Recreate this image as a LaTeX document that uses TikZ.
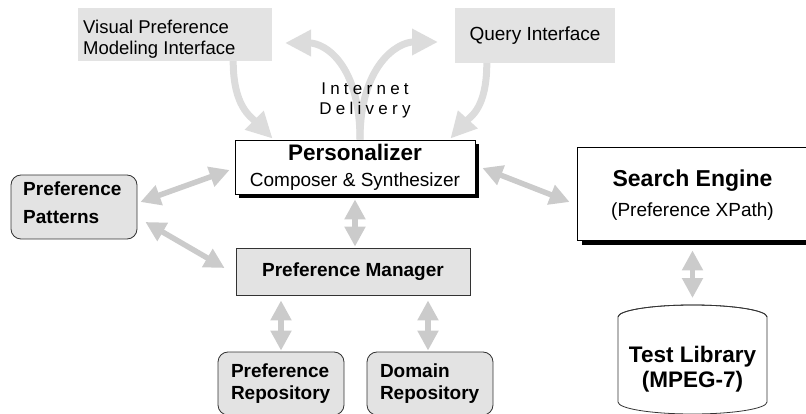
\documentclass[tikz,border=0pt]{standalone}
\usepackage{fontspec}
\setmainfont{Liberation Sans}
\newfontfamily\spacedfont[LetterSpace=25]{Liberation Sans}
\usetikzlibrary{arrows.meta,shadows,calc}
\definecolor{boxgray}{HTML}{E3E3E3}
\definecolor{arrgray}{HTML}{CBCBCB}
\definecolor{curvegray}{HTML}{DCDCDC}
\definecolor{edgegray}{HTML}{333333}
\begin{document}
\begin{tikzpicture}[x=1pt,y=-1pt,
  plainbox/.style={rectangle, fill=boxgray, inner sep=0pt},
  framebox/.style={rectangle, draw=edgegray, line width=0.8pt, fill=boxgray, inner sep=0pt},
  roundbox/.style={framebox, rounded corners=10pt},
  shadowbox/.style={rectangle, draw=black, line width=0.8pt, fill=white, inner sep=0pt},
  garrow/.style={draw=arrgray, line width=5.5pt,
    {Triangle[length=20pt,width=20pt]}-{Triangle[length=20pt,width=20pt]}},
  carrow/.style={draw=curvegray, line width=7pt, -{Triangle[length=26pt,width=25pt]}},
  txt/.style={inner sep=0pt, align=left}
]
\useasboundingbox (0,0) rectangle (806,414);

% top interfaces
\node[plainbox, minimum width=194pt, minimum height=53pt] (vis) at (175,34.5) {};
\node[txt, anchor=north west, font=\fontsize{18.5}{21}\selectfont] (vistext) at (83,19.5)
  {Visual Preference\\Modeling Interface};
\node[plainbox, minimum width=160pt, minimum height=55pt,
  font=\fontsize{19}{22}\selectfont] (query) at (535,35.5) {Query Interface};

% personalizer
\node[shadowbox, minimum width=240pt, minimum height=54pt, align=center,
  general shadow={fill=black, shadow xshift=4pt, shadow yshift=-4pt},
  font=\fontsize{19}{26}\selectfont] (pers) at (355,167)
  {{\fontsize{22.5}{26}\selectfont\bfseries Personalizer}\\Composer \& Synthesizer};

% search engine
\node[shadowbox, minimum width=238pt, minimum height=93pt,
  general shadow={fill=black, shadow xshift=5pt, shadow yshift=-5pt}] (search) at (696,193.5) {};
\node[align=center, inner sep=0pt, font=\fontsize{19}{30}\selectfont] (searchtext) at (692.5,195)
  {{\fontsize{23}{30}\selectfont\bfseries Search Engine}\\(Preference XPath)};

% preference patterns
\node[roundbox, minimum width=126pt, minimum height=64pt] (patt) at (74,207) {};
\node[txt, anchor=north west, font=\fontsize{19}{28}\selectfont\bfseries] (patttext) at (23,182)
  {Preference\\Patterns};

% preference manager
\node[framebox, minimum width=234pt, minimum height=47pt,
  font=\fontsize{19}{22}\selectfont\bfseries] (mgr) at (353,271.5) {Preference Manager};

% repositories
\node[roundbox, minimum width=126pt, minimum height=63pt, text width=100pt, align=left,
  font=\fontsize{19}{22}\selectfont\bfseries] (prepo) at (281,383.5)
  {Preference\\Repository};
\node[roundbox, minimum width=126pt, minimum height=63pt, text width=100pt, align=left,
  font=\fontsize{19}{22}\selectfont\bfseries] (drepo) at (430,383.5)
  {Domain\\Repository};

% test library cylinder
\draw[line width=0.8pt, draw=edgegray, fill=white]
  (618,317) -- (618,402) arc[start angle=180, end angle=360, x radius=74.5pt, y radius=12pt]
  -- (767,317) arc[start angle=0, end angle=180, x radius=74.5pt, y radius=12pt] -- cycle;
\draw[line width=0.8pt, draw=edgegray]
  (618,317) arc[start angle=180, end angle=360, x radius=74.5pt, y radius=-12pt];
\coordinate (cyltop) at (692.5,305);
\node[align=center, font=\fontsize{22.5}{25}\selectfont\bfseries] (lib) at (692.5,369)
  {Test Library\\(MPEG-7)};

% straight double arrows
\draw[garrow, shorten <=5pt, shorten >=1pt] (pers.south) -- (pers.south |- mgr.north);
\draw[garrow, shorten <=5pt, shorten >=1pt] (mgr.south -| prepo.north) -- (prepo.north);
\draw[garrow, shorten <=5pt, shorten >=1pt] ([xshift=-2pt]mgr.south -| drepo.north) -- ([xshift=-2pt]drepo.north);
\draw[garrow, shorten <=10pt, shorten >=7pt] (search.south -| cyltop) -- (cyltop);
\draw[garrow] ([shift={(3,-5)}]patt.east) -- ([shift={(-5,3)}]pers.west);
\draw[garrow] ([shift={(8,15)}]patt.east) -- ([shift={(-11,-3.5)}]mgr.west);
\draw[garrow] ([shift={(7,1)}]pers.east) -- ([shift={(-7,8.5)}]search.west);

% curved internet delivery arrows
\coordinate (lhead) at (285,43);
\coordinate (rhead) at (438,42);
\draw[carrow] ([xshift=-39pt]vis.south east) .. controls +(0,45) and +(-22,-22) .. ([xshift=38pt,yshift=1pt]pers.north west);
\draw[carrow] ([xshift=32pt]query.south west) .. controls +(0,45) and +(20,-22) .. ([xshift=-25pt,yshift=1pt]pers.north east);
\draw[carrow] ([xshift=5pt]pers.north) .. controls +(0,-75) and +(40,0) .. (lhead);
\draw[carrow] ([xshift=5pt]pers.north) .. controls +(0,-75) and +(-40,0) .. (rhead);

% internet delivery label (on top of the curves)
\node[align=center, font=\fontsize{17}{20}\selectfont\spacedfont] (inet) at (365,100)
  {Internet\\Delivery};
\end{tikzpicture}
\end{document}
